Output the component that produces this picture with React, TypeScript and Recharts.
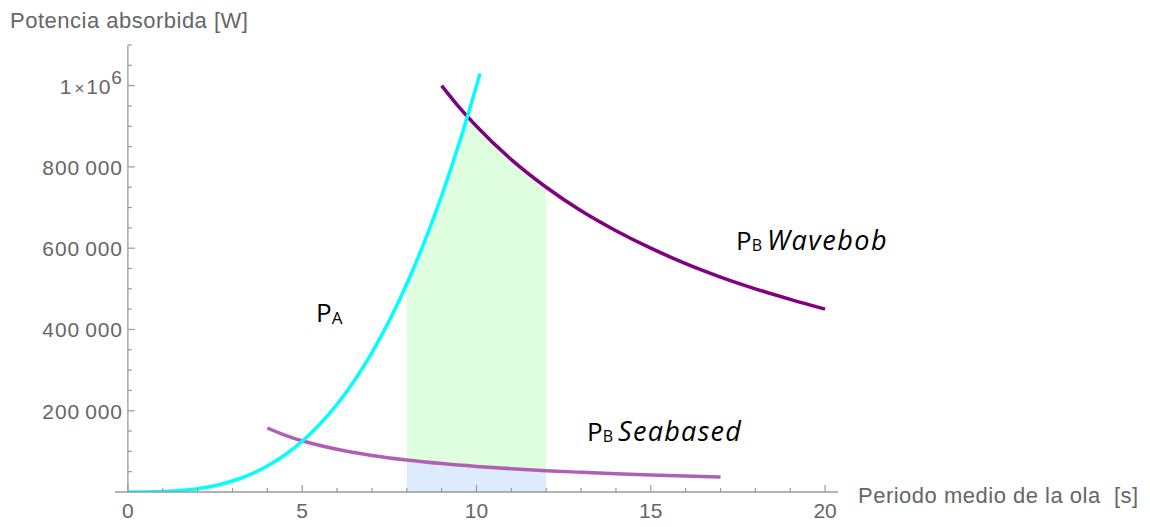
import React from "react";
import {
  ComposedChart,
  Line,
  Area,
  XAxis,
  YAxis,
  ReferenceLine,
} from "recharts";

// wave period [s] and absorbed power [W]
const paT = [0, 0.5, 1, 1.5, 2, 2.5, 3, 3.5, 4, 4.5, 5, 5.5, 6, 6.5, 7, 7.5, 8, 8.5, 9, 9.5, 10, 10.1];
const paPower = [0, 125, 1000, 3400, 8000, 15600, 27000, 42900, 64000, 91100, 125000, 166400, 216000, 274600, 343000, 421900, 512000, 614100, 729000, 857400, 1000000, 1030000];

const wavebobT = [9, 9.5, 10, 11, 12, 13, 14, 15, 16, 17, 18, 19, 20];
const wavebobPower = [1000000, 947000, 900000, 818000, 750000, 692000, 643000, 600000, 562000, 529000, 500000, 474000, 450000];

const seabasedT = [4, 4.5, 5, 6, 7, 8, 9, 10, 11, 12, 13, 14, 15, 16, 17];
const seabasedPower = [157500, 140000, 126000, 105000, 90000, 78750, 70000, 63000, 57300, 52500, 48500, 45000, 42000, 39400, 37000];

// shaded band between 8 s and 12 s
const bandT = [8, 8.25, 8.5, 8.75, 9, 9.25, 9.5, 9.76, 10, 10.5, 11, 11.5, 12];
const bandLow = [78750, 76400, 74100, 72000, 70000, 68100, 66300, 64500, 63000, 60000, 57300, 54800, 52500];
const bandTop = [512000, 561500, 614100, 669900, 729000, 791500, 857400, 922000, 900000, 857000, 818000, 783000, 750000];

const xTicks = [0, 1, 2, 3, 4, 5, 6, 7, 8, 9, 10, 11, 12, 13, 14, 15, 16, 17, 18, 19, 20];
const yTicks = [
  0, 50000, 100000, 150000, 200000, 250000, 300000, 350000, 400000, 450000, 500000,
  550000, 600000, 650000, 700000, 750000, 800000, 850000, 900000, 950000, 1000000,
  1050000, 1100000,
];

const W = 1150;
const H = 527;
const M = { top: 45, right: 312, left: 114, bottom: 5 };
const Y_AXIS_W = 1;
const X_AXIS_H = 30;
const X_DOMAIN = [-0.37, 20.37];
const AXIS_Y = H - M.bottom - X_AXIS_H;
const PLOT_L = M.left + Y_AXIS_W;
const PLOT_W = W - PLOT_L - M.right;
const X0 = PLOT_L + ((0 - X_DOMAIN[0]) / (X_DOMAIN[1] - X_DOMAIN[0])) * PLOT_W;

const AXIS_COLOR = "#9a9a9a";
const TEXT_COLOR = "#666";
const FONT = "'Liberation Sans', Arial, sans-serif";
const LABEL_FONT = "'Open Sans', 'Noto Sans', sans-serif";

const paData = paT.map((t, i) => ({ t, p: paPower[i] }));
const wavebobData = wavebobT.map((t, i) => ({ t, p: wavebobPower[i] }));
const seabasedData = seabasedT.map((t, i) => ({ t, p: seabasedPower[i] }));
const blueBand = bandT.map((t, i) => ({ t, range: [0, bandLow[i]] }));
const greenBand = bandT.map((t, i) => ({ t, range: [bandLow[i], bandTop[i]] }));

const fmt = (v: number) =>
  String(v).replace(/\B(?=(\d{3})+(?!\d))/g, "\u2009");

function XTick(props: any) {
  const { x, payload } = props;
  const v = payload.value;
  const major = v % 5 === 0;
  return (
    <g>
      <line x1={x} x2={x} y1={AXIS_Y} y2={AXIS_Y - (major ? 7 : 4)} stroke={AXIS_COLOR} strokeWidth={1.2} />
      {major && (
        <text x={x} y={AXIS_Y + 26} textAnchor="middle" fill={TEXT_COLOR} fontSize={21} fontFamily={FONT}>
          {v}
        </text>
      )}
    </g>
  );
}

function YTick(props: any) {
  const { y, payload } = props;
  const v = payload.value;
  if (v === 0) return <g />;
  const major = v % 200000 === 0;
  return (
    <g>
      <line x1={X0} x2={X0 + (major ? 7 : 4)} y1={y} y2={y} stroke={AXIS_COLOR} strokeWidth={1.2} />
      {major && v === 1000000 && (
        <text x={X0 - 6} y={y + 8} textAnchor="end" fill={TEXT_COLOR} fontSize={21} fontFamily={FONT}>
          1<tspan fontSize={17} dx={3}>×</tspan>
          <tspan dx={2} letterSpacing={0.8}>10</tspan>
          <tspan fontSize={19} dy={-10}>6</tspan>
        </text>
      )}
      {major && v !== 1000000 && (
        <text x={X0 - 5} y={y + 8} textAnchor="end" fill={TEXT_COLOR} fontSize={21} letterSpacing={0.9} fontFamily={FONT}>
          {fmt(v)}
        </text>
      )}
    </g>
  );
}

export default function App() {
  return (
    <div style={{ position: "absolute", left: 0, top: 0, width: W, height: H, background: "#fff" }}>
      <ComposedChart width={W} height={H} margin={M}>
        <XAxis
          dataKey="t"
          type="number"
          domain={X_DOMAIN}
          ticks={xTicks}
          interval={0}
          height={X_AXIS_H}
          tickLine={false}
          axisLine={{ stroke: AXIS_COLOR, strokeWidth: 1.3 }}
          tick={XTick}
          allowDataOverflow
        />
        <YAxis
          type="number"
          domain={[0, 1100000]}
          ticks={yTicks}
          interval={0}
          width={Y_AXIS_W}
          axisLine={false}
          tickLine={false}
          tick={YTick}
          allowDataOverflow
        />
        <Area data={blueBand} dataKey="range" type="linear" stroke="none" fill="#dcecfe" fillOpacity={1} isAnimationActive={false} />
        <Area data={greenBand} dataKey="range" type="linear" stroke="none" fill="#dffedf" fillOpacity={1} isAnimationActive={false} />
        <ReferenceLine x={0} stroke={AXIS_COLOR} strokeWidth={1.3} />
        <Line data={seabasedData} dataKey="p" type="monotone" stroke="#b060b4" strokeWidth={3.5} dot={false} isAnimationActive={false} />
        <Line data={wavebobData} dataKey="p" type="monotone" stroke="#800080" strokeWidth={3.5} dot={false} isAnimationActive={false} />
        <Line data={paData} dataKey="p" type="monotone" stroke="#00ffff" strokeWidth={3.5} dot={false} isAnimationActive={false} />
      </ComposedChart>
      <svg width={W} height={H} style={{ position: "absolute", left: 0, top: 0, pointerEvents: "none" }}>
        <text x={10} y={28} fill={TEXT_COLOR} fontSize={22} letterSpacing={0.5} fontFamily={FONT}>
          Potencia absorbida [W]
        </text>
        <text x={858} y={503} fill={TEXT_COLOR} fontSize={22} letterSpacing={0.5} fontFamily={FONT} style={{ whiteSpace: "pre" }}>
          Periodo medio de la ola  [s]
        </text>
        <text x={316} y={322} fill="#000" fontSize={26} fontFamily={LABEL_FONT}>
          P<tspan fontSize={17} dy={2}>A</tspan>
        </text>
        <text x={736} y={250} fill="#000" fontSize={26} fontFamily={LABEL_FONT}>
          P<tspan fontSize={16} dy={1}>B</tspan>
          <tspan dy={-1} dx={5} fontSize={27} fontStyle="italic" letterSpacing={1.5}>Wavebob</tspan>
        </text>
        <text x={587} y={441} fill="#000" fontSize={26} fontFamily={LABEL_FONT}>
          P<tspan fontSize={16} dy={1}>B</tspan>
          <tspan dy={-1} dx={5} fontSize={27} fontStyle="italic" letterSpacing={1.3}>Seabased</tspan>
        </text>
      </svg>
    </div>
  );
}
